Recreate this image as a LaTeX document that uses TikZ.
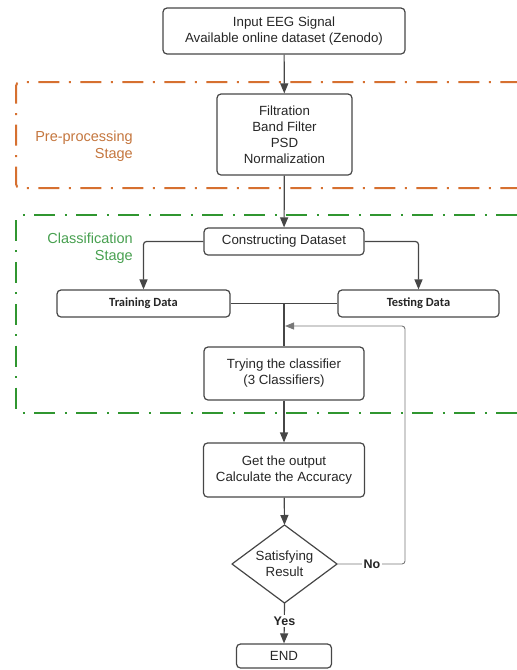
\documentclass[tikz,border=0pt]{standalone}
\usepackage{fontspec}
\setmainfont{Liberation Sans}
\newfontfamily\calib{Carlito}
\usetikzlibrary{arrows.meta}
\definecolor{orng}{RGB}{214,112,48}
\definecolor{orngtxt}{RGB}{196,118,62}
\definecolor{grn}{RGB}{48,150,48}
\definecolor{grntxt}{RGB}{72,160,80}
\definecolor{edgec}{RGB}{70,70,70}
\definecolor{fbc}{RGB}{120,120,120}
\begin{document}
\begin{tikzpicture}[x=1pt,y=-1pt,
  box/.style={draw=edgec, line width=1.2pt, rounded corners=4pt, inner sep=0pt, align=center,
    font=\fontsize{13.3}{16}\selectfont, text=black!85},
  smallbox/.style={box, font=\calib\bfseries\fontsize{12.5}{14}\selectfont},
  conn/.style={draw=edgec, line width=1.2pt},
  arr/.style={conn, -{Triangle[length=10pt,width=8pt]}},
  fbline/.style={draw=fbc, line width=0.9pt, rounded corners=3pt, -{Triangle[length=9pt,width=7pt]}},
  stagebox/.style={line width=2pt, dash pattern=on 21pt off 9.5pt on 2pt off 9.5pt, dash phase=10.5pt, rounded corners=4pt},
  stagelbl/.style={align=right, anchor=east, inner sep=0pt, font=\fontsize{14.5}{17}\selectfont},
  lbl/.style={fill=white, inner sep=1.5pt, font=\bfseries\fontsize{12.5}{14}\selectfont, text=black!85}
]
\useasboundingbox (0,0) rectangle (517,670);

% stage frames
\draw[stagebox, draw=orng] (16,135) -- (16,82) -- (540,82);
\draw[stagebox, draw=orng] (16,135) -- (16,188) -- (540,188);
\draw[stagebox, draw=grn] (16,314) -- (16,215) -- (540,215);
\draw[stagebox, draw=grn] (16,314) -- (16,413) -- (540,413);

\node[stagelbl, text=orngtxt] (prelbl) at (133,146.5) {Pre-processing\\Stage};
\node[stagelbl, text=grntxt] (clslbl) at (133,248.5) {Classification\\Stage};

% boxes
\node[box, minimum width=242pt, minimum height=46pt] (in) at (284,31) {Input EEG Signal\\Available online dataset (Zenodo)};
\node[box, minimum width=135pt, minimum height=81pt] (filt) at (284.5,134.5) {Filtration\\Band Filter\\PSD\\Normalization};
\node[box, minimum width=160pt, minimum height=27pt] (cons) at (284,241.5) {Constructing Dataset};
\node[smallbox, minimum width=173pt, minimum height=27pt] (train) at (143.5,303.5) {Training Data};
\node[smallbox, minimum width=161pt, minimum height=27pt] (test) at (418.5,303.5) {Testing Data};
\node[box, minimum width=160pt, minimum height=53pt] (try) at (284,373.5) {Trying the classifier\\(3 Classifiers)};
\node[box, minimum width=161pt, minimum height=54pt] (get) at (284,470) {Get the output\\Calculate the Accuracy};
\node[box, minimum width=95pt, minimum height=24pt] (end) at (284,656) {END};

% decision diamond
\coordinate (dtop) at (284.5,525);
\coordinate (dbot) at (284.5,603);
\coordinate (dleft) at (232,564);
\coordinate (dright) at (337,564);
\draw[draw=edgec, line width=1.2pt, line join=round] (dtop) -- (dright) -- (dbot) -- (dleft) -- cycle;
\node[align=center, inner sep=0pt, font=\fontsize{13.3}{16}\selectfont, text=black!85] (dec) at (284.5,564) {Satisfying\\Result};

% connectors
\coordinate (j) at (284,303.5);
\coordinate (fb) at (285,326);
\coordinate (fbc1) at (405,564);
\coordinate (fbc2) at (405,326);
\draw[arr] (in) -- (filt);
\draw[arr] (filt) -- (cons);
\draw[arr, rounded corners=3pt] (cons.west) -| (train.north);
\draw[arr, rounded corners=3pt] (cons.east) -| (test.north);
\draw[conn] (train.east) -- (test.west);
\draw[conn] (j) -- (try.north);
\draw[arr] (try) -- (get);
\draw[arr] (get) -- (dtop);
\draw[arr] (dbot) -- (end.north);
\draw[fbline] (dright) -- (fbc1) -- (fbc2) -- (fb);
\node[lbl] (no) at (372,564) {No};
\node[lbl] (yes) at (284.5,621) {Yes};
\end{tikzpicture}
\end{document}
